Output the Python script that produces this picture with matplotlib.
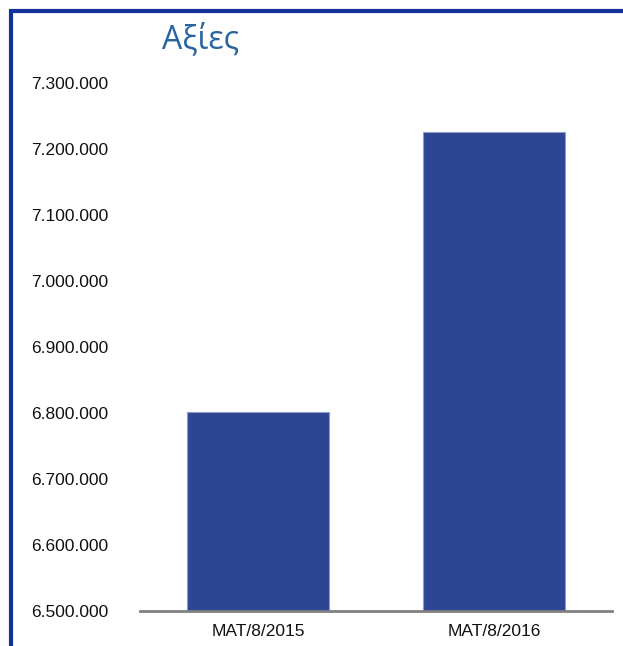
import matplotlib.pyplot as plt
import matplotlib.ticker as mticker
from matplotlib.patches import Rectangle

# values per period
categories = ["MAT/8/2015", "MAT/8/2016"]
values = [6802000, 7226000]
yticks = [6500000, 6600000, 6700000, 6800000, 6900000, 7000000, 7100000, 7200000, 7300000]

W, H = 623, 646
fig = plt.figure(figsize=(W / 100, H / 100), dpi=100)
plt.rcParams['font.family'] = ['Liberation Sans', 'DejaVu Sans']

# axes placed in pixel coordinates
left, right, top, bottom = 140, 612, 83, 611
ax = fig.add_axes([left / W, 1 - bottom / H, (right - left) / W, (bottom - top) / H])

x = range(len(categories))
ax.bar(x, values, width=0.6, color='#2E4594', edgecolor='#8D9BCB', linewidth=0.8, zorder=2)

ax.set_xlim(-0.5, 1.5)
ax.set_ylim(6500000, 7300000)
ax.set_yticks(yticks)
ax.yaxis.set_major_formatter(mticker.FuncFormatter(lambda v, p: "{:,.0f}".format(v).replace(",", ".")))
ax.set_xticks(list(x))
ax.set_xticklabels(categories)

for s in ['top', 'right', 'left']:
    ax.spines[s].set_visible(False)
ax.spines['bottom'].set_color('#808080')
ax.spines['bottom'].set_linewidth(2)
ax.spines['bottom'].set_zorder(3)
ax.tick_params(axis='both', length=0, labelsize=12.5, colors='#111111')
ax.tick_params(axis='y', pad=23)
ax.tick_params(axis='x', pad=9)

fig.text(162 / W, 1 - 39 / H, "Αξίες", fontsize=23, color='#2A64A0',
         family=['Open Sans', 'DejaVu Sans'], va='center', ha='left')

# blue frame around the chart
fig.patches.append(Rectangle((11 / W, -0.1), 1.2, 1 - 11 / H + 0.1, transform=fig.transFigure,
                             fill=False, edgecolor='#13309A', linewidth=3))

fig.savefig('out.png', dpi=100)
